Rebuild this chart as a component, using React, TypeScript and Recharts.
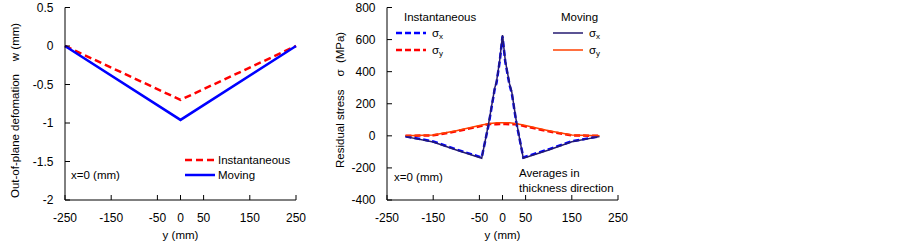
import React from 'react';
import { LineChart, Line, XAxis, YAxis } from 'recharts';

// Left panel: out-of-plane deformation w along y at x=0
const defPos = [-250, 0, 250];
const defInstant = [0, -0.7, 0];
const defMoving = [0, -0.96, 0];
const defYTicks = [-2, -1.5, -1, -0.5, 0, 0.5];

// Right panel: residual stress (averages in thickness direction)
const stressPos = [-210, -150, -100, -45, -30, -17, -13, -6, 0, 6, 15, 20, 30, 45, 100, 150, 210];
const sxInstant = [-3, -35, -85, -135, 70, 290, 330, 465, 620, 462, 320, 268, 82, -135, -84, -34, -3];
const sxMoving = [-5, -38, -88, -140, 78, 296, 337, 472, 628, 470, 327, 275, 90, -140, -88, -37, -5];
const syInstant = [0, 3, 28, 62, 74, 72, 72, 73, 73, 73, 72, 72, 74, 62, 28, 3, 0];
const syMoving = [0, 5, 32, 67, 76, 80, 81, 82, 82, 82, 81, 80, 76, 67, 32, 5, 0];
const stressYTicks = [-400, -200, 0, 200, 400, 600, 800];

const yTicksX = [-250, -150, -50, 0, 50, 150, 250];

const defData = defPos.map((y, i) => ({ y, inst: defInstant[i], mov: defMoving[i] }));
const stressData = stressPos.map((y, i) => ({
  y,
  sxI: sxInstant[i],
  sxM: sxMoving[i],
  syI: syInstant[i],
  syM: syMoving[i],
}));

const FONT = '"Liberation Sans", Arial, sans-serif';
const tickStyle = { fill: '#000', fontSize: 12 };

const VTitle = ({ x, y, text }: { x: number; y: number; text: string }) => (
  <text
    x={x}
    y={y}
    transform={`rotate(-90, ${x}, ${y})`}
    textAnchor="start"
    dominantBaseline="central"
    fontSize={11.5}
    fill="#000"
    style={{ fontFamily: FONT }}
  >
    {text}
  </text>
);

const Note = ({ left, top, children }: { left: number; top: number; children: React.ReactNode }) => (
  <div style={{ position: 'absolute', left, top, fontSize: 11.5, lineHeight: '14px', whiteSpace: 'nowrap', color: '#000' }}>
    {children}
  </div>
);

const Swatch = ({ left, top, color, width, dash }: { left: number; top: number; color: string; width: number; dash?: string }) => (
  <svg style={{ position: 'absolute', left, top: top - 3 }} width={30} height={6}>
    <line x1={0} y1={3} x2={30} y2={3} stroke={color} strokeWidth={width} strokeDasharray={dash} />
  </svg>
);

const Sig = ({ sub }: { sub: string }) => (
  <span>
    σ<span style={{ fontSize: 8, position: 'relative', top: 2 }}>{sub}</span>
  </span>
);

const sharedX = (
  <XAxis
    dataKey="y"
    type="number"
    domain={[-250, 250]}
    ticks={yTicksX}
    interval={0}
    height={25}
    tickSize={-5}
    tickMargin={18.5}
    tick={tickStyle}
    stroke="#000"
    label={{ value: 'y (mm)', position: 'bottom', offset: 6, fill: '#000', fontSize: 11.5 }}
  />
);

export default function App() {
  return (
    <div style={{ position: 'absolute', left: 0, top: 0, width: 903, height: 245, background: '#fff', fontFamily: FONT }}>
      <LineChart
        width={310}
        height={245}
        data={defData}
        margin={{ top: 7.5, right: 14, bottom: 20, left: 0 }}
        style={{ position: 'absolute', left: 0, top: 0 }}
      >
        {sharedX}
        <XAxis xAxisId="top" orientation="top" dataKey="y" type="number" domain={[-250, 250]} height={0} tick={false} tickLine={false} stroke="#000" />
        <YAxis
          type="number"
          domain={[-2, 0.5]}
          ticks={defYTicks}
          interval={0}
          width={65}
          tickSize={-5}
          tickMargin={16.5}
          tick={tickStyle}
          stroke="#000"
          label={{ content: () => <VTitle x={15} y={198} text={'Out-of-plane defomation\u00A0\u00A0\u00A0\u00A0w (mm)'} /> }}
        />
        <YAxis yAxisId="right" orientation="right" type="number" domain={[-2, 0.5]} width={0} tick={false} tickLine={false} stroke="#000" />
        <Line dataKey="inst" stroke="#ff0000" strokeWidth={2.5} strokeDasharray="7 4" dot={false} isAnimationActive={false} />
        <Line dataKey="mov" stroke="#0000ff" strokeWidth={2.5} dot={false} isAnimationActive={false} />
      </LineChart>

      <LineChart
        width={320}
        height={245}
        data={stressData}
        margin={{ top: 7.5, right: 22, bottom: 20, left: 0 }}
        style={{ position: 'absolute', left: 320, top: 0 }}
      >
        {sharedX}
        <XAxis xAxisId="top" orientation="top" dataKey="y" type="number" domain={[-250, 250]} height={0} tick={false} tickLine={false} stroke="#000" />
        <YAxis
          type="number"
          domain={[-400, 800]}
          ticks={stressYTicks}
          interval={0}
          width={67}
          tickSize={-5}
          tickMargin={16.5}
          tick={tickStyle}
          stroke="#000"
          label={{ content: () => <VTitle x={20} y={168} text={'Residual stress\u00A0\u00A0\u00A0\u00A0σ\u00A0\u00A0(MPa)'} /> }}
        />
        <YAxis yAxisId="right" orientation="right" type="number" domain={[-400, 800]} width={0} tick={false} tickLine={false} stroke="#000" />
        <Line dataKey="syI" stroke="#ff0000" strokeWidth={2.5} strokeDasharray="6 3" dot={false} isAnimationActive={false} />
        <Line dataKey="sxI" stroke="#0000ff" strokeWidth={2.5} strokeDasharray="6 3" dot={false} isAnimationActive={false} />
        <Line dataKey="syM" stroke="#ff4000" strokeWidth={1.5} dot={false} isAnimationActive={false} />
        <Line dataKey="sxM" stroke="#241a70" strokeWidth={1.5} dot={false} isAnimationActive={false} />
      </LineChart>

      {/* left panel legend and note */}
      <Swatch left={185} top={160} color="#ff0000" width={2.5} dash="7 4" />
      <Note left={218} top={153}>Instantaneous</Note>
      <Swatch left={185} top={175} color="#0000ff" width={2.5} />
      <Note left={218} top={168}>Moving</Note>
      <Note left={71} top={168}>x=0 (mm)</Note>

      {/* right panel legend and notes */}
      <Note left={404} top={10}>Instantaneous</Note>
      <Note left={561} top={10}>Moving</Note>
      <Swatch left={396} top={33} color="#0000ff" width={2.5} dash="6 3" />
      <Note left={432} top={26}><Sig sub="x" /></Note>
      <Swatch left={396} top={50} color="#ff0000" width={2.5} dash="6 3" />
      <Note left={432} top={43}><Sig sub="y" /></Note>
      <Swatch left={553} top={33} color="#241a70" width={1.5} />
      <Note left={589} top={26}><Sig sub="x" /></Note>
      <Swatch left={553} top={50} color="#ff4000" width={1.5} />
      <Note left={589} top={43}><Sig sub="y" /></Note>
      <Note left={394} top={170}>x=0 (mm)</Note>
      <Note left={519} top={166}>Averages in</Note>
      <Note left={519} top={181}>thickness direction</Note>
    </div>
  );
}
